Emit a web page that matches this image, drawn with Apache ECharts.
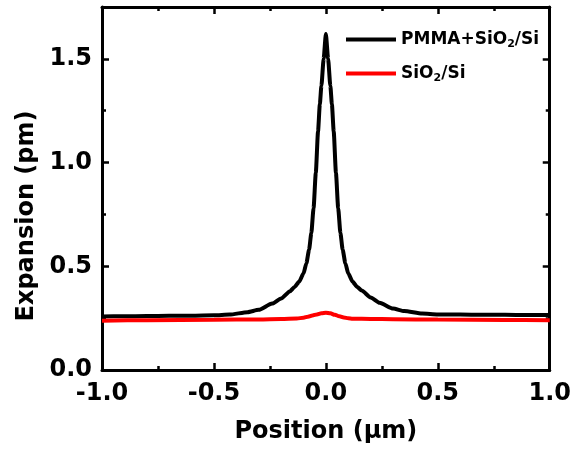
<!DOCTYPE html>
<html>
<head>
<meta charset="utf-8">
<script src="https://cdn.jsdelivr.net/npm/echarts@6/dist/echarts.min.js"></script>
<style>
html,body{margin:0;padding:0;background:#fff;}
#chart{width:574px;height:451px;}
</style>
</head>
<body>
<div id="chart"></div>
<script>
// values
var pmmaX = [-1, -0.9, -0.8, -0.7, -0.6, -0.5, -0.43, -0.35, -0.3, -0.24, -0.2, -0.16, -0.14, -0.12, -0.1, -0.087, -0.075, -0.065, -0.055, -0.045, -0.035, -0.027, -0.02, -0.01, 0,
             0.01, 0.02, 0.027, 0.035, 0.045, 0.055, 0.065, 0.075, 0.087, 0.1, 0.12, 0.14, 0.16, 0.2, 0.24, 0.3, 0.35, 0.43, 0.5, 0.6, 0.7, 0.8, 0.9, 1];
var pmmaY = [0.258, 0.259, 0.26, 0.261, 0.262, 0.264, 0.267, 0.279, 0.29, 0.32, 0.345, 0.38, 0.4, 0.425, 0.465, 0.515, 0.58, 0.66, 0.78, 0.95, 1.15, 1.28, 1.37, 1.5, 1.62,
             1.5, 1.37, 1.28, 1.15, 0.95, 0.78, 0.66, 0.58, 0.515, 0.465, 0.425, 0.4, 0.383, 0.35, 0.324, 0.296, 0.284, 0.272, 0.268, 0.267, 0.266, 0.266, 0.265, 0.265];
var sio2X = [-1, -0.8, -0.5, -0.3, -0.2, -0.13, -0.1, -0.08, -0.06, -0.04, -0.02, 0, 0.02, 0.04, 0.06, 0.08, 0.1, 0.12, 0.2, 0.3, 0.5, 0.8, 1];
var sio2Y = [0.238, 0.24, 0.242, 0.244, 0.246, 0.248, 0.252, 0.257, 0.263, 0.268, 0.273, 0.276, 0.273, 0.266, 0.259, 0.253, 0.249, 0.247, 0.246, 0.245, 0.243, 0.241, 0.24];
var seriesNames = ['PMMA+SiO2/Si', 'SiO2/Si'];

function pairs(xs, ys){
    return xs.map(function(x, i){ return [x, ys[i]]; });
}

var font = 'DejaVu Sans';

function yAx(pos, major, labels){
    return {
        type:'value', position:pos, min:0, max:1.75, interval: major ? 0.5 : 0.25,
        axisLine:{show:major, onZero:false, lineStyle:{color:'#000', width:3}},
        axisTick:{show:true, inside:true, length: major ? 7 : 4, lineStyle:{color:'#000', width:2.5}},
        axisLabel:{show:labels, margin:10, color:'#000', fontFamily:font, fontWeight:'bold', fontSize:24,
            formatter:function(v){ return (Math.abs(v*2 - Math.round(v*2)) < 1e-6) ? v.toFixed(1) : ''; }},
        splitLine:{show:false}
    };
}

var chart = echarts.init(document.getElementById('chart'));
chart.setOption({
    animation:false,
    grid:{left:102, right:22, top:7, bottom:81, containLabel:false},
    legend:{
        orient:'vertical', left:341, top:26, icon:'rect', itemWidth:50, itemHeight:4, itemGap:15,
        data:seriesNames,
        formatter:function(n){ return n.replace('O2', 'O{sub|2}'); },
        textStyle:{color:'#000', fontFamily:font, fontWeight:'bold', fontSize:17,
            rich:{sub:{fontSize:11, fontFamily:font, fontWeight:'bold', color:'#000', padding:[10,0,0,0]}}}
    },
    xAxis:[{
        type:'value', position:'bottom', min:-1, max:1, interval:0.5,
        axisLine:{show:true, onZero:false, lineStyle:{color:'#000', width:3}},
        axisTick:{show:true, inside:true, length:7, lineStyle:{color:'#000', width:2.5}},
        minorTick:{show:true, splitNumber:2, length:4, lineStyle:{color:'#000', width:2.5}},
        axisLabel:{margin:12, color:'#000', fontFamily:font, fontWeight:'bold', fontSize:24,
            formatter:function(v){ return v.toFixed(1); }},
        splitLine:{show:false},
        name:'Position (\u03bcm)', nameLocation:'middle', nameGap:50,
        nameTextStyle:{color:'#000', fontFamily:font, fontWeight:'bold', fontSize:24}
    },{
        type:'value', position:'top', min:-1, max:1, interval:0.5,
        axisLine:{show:true, onZero:false, lineStyle:{color:'#000', width:3}},
        axisTick:{show:true, inside:true, length:7, lineStyle:{color:'#000', width:2.5}},
        minorTick:{show:true, splitNumber:2, length:4, lineStyle:{color:'#000', width:2.5}},
        axisLabel:{show:false}, splitLine:{show:false}
    }],
    yAxis:[
        Object.assign(yAx('left', true, true), {
            name:'Expansion (pm)', nameLocation:'middle', nameGap:62,
            nameTextStyle:{color:'#000', fontFamily:font, fontWeight:'bold', fontSize:24, padding:[0,55,0,0]}
        }),
        yAx('left', false, false),
        yAx('right', true, false),
        yAx('right', false, false)
    ],
    series:[{
        name:seriesNames[0], type:'line', symbol:'none', smooth:0.2, smoothMonotone:'x',
        lineStyle:{color:'#000', width:4}, itemStyle:{color:'#000'},
        data:pairs(pmmaX, pmmaY)
    },{
        name:seriesNames[1], type:'line', symbol:'none', smooth:0.3, smoothMonotone:'x',
        lineStyle:{color:'#ff0000', width:4}, itemStyle:{color:'#ff0000'},
        data:pairs(sio2X, sio2Y)
    }]
});
</script>
</body>
</html>
